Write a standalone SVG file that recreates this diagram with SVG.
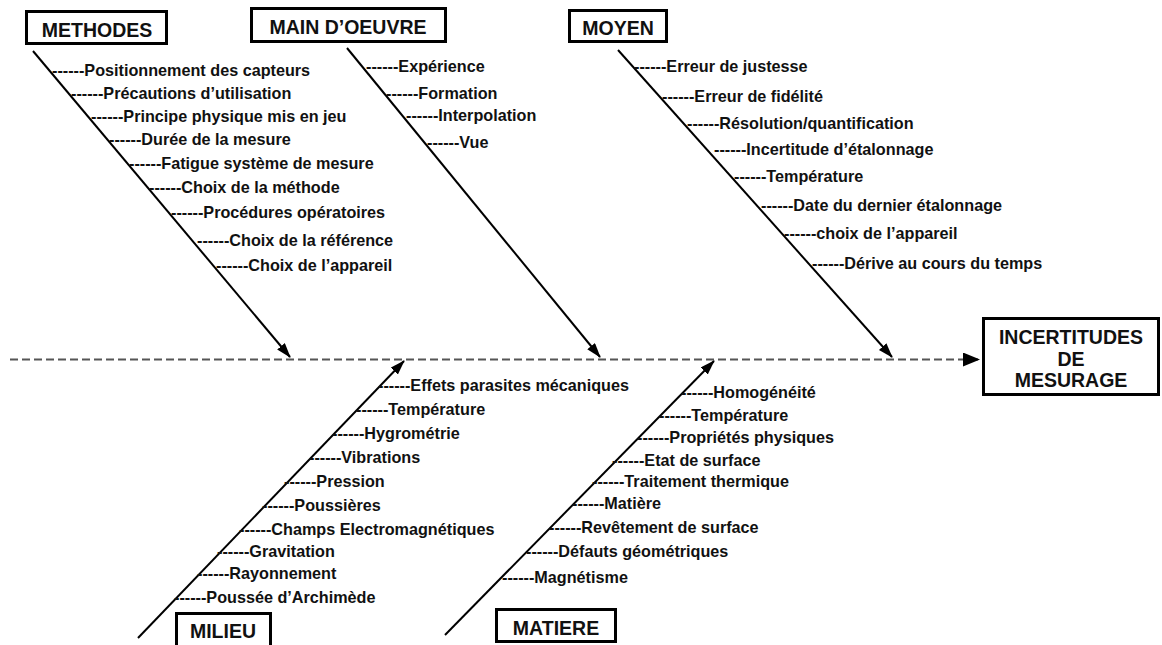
<svg xmlns="http://www.w3.org/2000/svg" width="1162" height="645" viewBox="0 0 1162 645">
  <style>
    .box { fill: #fff; stroke: #000; stroke-width: 3; }
    .title { font-family: "Liberation Sans", Arial, sans-serif; font-weight: bold; font-size: 19.5px; fill: #111; text-anchor: middle; }
    .cause { font-family: "Liberation Sans", Arial, sans-serif; font-weight: bold; font-size: 16.2px; fill: #111; }
    .bone { stroke: #000; stroke-width: 2; fill: none; }
    .spine { stroke: #555; stroke-width: 2.2; stroke-dasharray: 8 4; fill: none; }
  </style>
  <defs>
    <marker id="ah" markerWidth="16" markerHeight="12" refX="14" refY="5" orient="auto" markerUnits="userSpaceOnUse">
      <path d="M0,0 L15,5 L0,10 z" fill="#000"/>
    </marker>
    <marker id="ahMain" markerWidth="18" markerHeight="16" refX="16" refY="7" orient="auto" markerUnits="userSpaceOnUse">
      <path d="M0,0 L17,7 L0,14 z" fill="#000"/>
    </marker>
  </defs>
  <rect width="1162" height="645" fill="#fff"/>

  <!-- spine and category bones -->
  <g id="connectors">
    <line class="spine" x1="10" y1="359.5" x2="979" y2="359.5" marker-end="url(#ahMain)"/>
    <line class="bone" x1="33" y1="51" x2="290" y2="357" marker-end="url(#ah)"/>
    <line class="bone" x1="347" y1="48" x2="600" y2="357" marker-end="url(#ah)"/>
    <line class="bone" x1="618" y1="50" x2="892" y2="357" marker-end="url(#ah)"/>
    <line class="bone" x1="138" y1="638" x2="404" y2="361" marker-end="url(#ah)"/>
    <line class="bone" x1="445" y1="635" x2="714" y2="361" marker-end="url(#ah)"/>
  </g>

  <g id="methodes">
    <rect class="box" x="26.5" y="11.5" width="140" height="32"/>
    <text class="title" x="97" y="37">METHODES</text>
    <text class="cause" x="52" y="76">------Positionnement des capteurs</text>
    <text class="cause" x="71" y="99">------Précautions d’utilisation</text>
    <text class="cause" x="91" y="122">------Principe physique mis en jeu</text>
    <text class="cause" x="109" y="145">------Durée de la mesure</text>
    <text class="cause" x="129" y="169">------Fatigue système de mesure</text>
    <text class="cause" x="149" y="193">------Choix de la méthode</text>
    <text class="cause" x="171" y="218">------Procédures opératoires</text>
    <text class="cause" x="197" y="246">------Choix de la référence</text>
    <text class="cause" x="216" y="271">------Choix de l’appareil</text>
  </g>

  <g id="main-oeuvre">
    <rect class="box" x="251.5" y="8.5" width="194" height="33"/>
    <text class="title" x="348" y="34">MAIN D’OEUVRE</text>
    <text class="cause" x="366" y="72">------Expérience</text>
    <text class="cause" x="386" y="99">------Formation</text>
    <text class="cause" x="406" y="121">------Interpolation</text>
    <text class="cause" x="427" y="148">------Vue</text>
  </g>

  <g id="moyen">
    <rect class="box" x="569.5" y="10.5" width="97" height="31"/>
    <text class="title" x="618" y="35">MOYEN</text>
    <text class="cause" x="634" y="72">------Erreur de justesse</text>
    <text class="cause" x="662" y="102">------Erreur de fidélité</text>
    <text class="cause" x="687" y="129">------Résolution/quantification</text>
    <text class="cause" x="714" y="155">------Incertitude d’étalonnage</text>
    <text class="cause" x="734" y="182">------Température</text>
    <text class="cause" x="761" y="211">------Date du dernier étalonnage</text>
    <text class="cause" x="784" y="239">------choix de l’appareil</text>
    <text class="cause" x="812" y="269">------Dérive au cours du temps</text>
  </g>

  <g id="milieu">
    <rect class="box" x="176.5" y="613.5" width="94" height="45"/>
    <text class="title" x="223" y="638">MILIEU</text>
    <text class="cause" x="378" y="391">------Effets parasites mécaniques</text>
    <text class="cause" x="356" y="415">------Température</text>
    <text class="cause" x="332" y="439">------Hygrométrie</text>
    <text class="cause" x="309" y="463">------Vibrations</text>
    <text class="cause" x="284" y="487">------Pression</text>
    <text class="cause" x="262" y="511">------Poussières</text>
    <text class="cause" x="239" y="535">------Champs Electromagnétiques</text>
    <text class="cause" x="217" y="557">------Gravitation</text>
    <text class="cause" x="197" y="579">------Rayonnement</text>
    <text class="cause" x="174" y="603">------Poussée d’Archimède</text>
  </g>

  <g id="matiere">
    <rect class="box" x="496.5" y="609.5" width="119" height="32"/>
    <text class="title" x="556" y="635">MATIERE</text>
    <text class="cause" x="681" y="398">------Homogénéité</text>
    <text class="cause" x="659" y="421">------Température</text>
    <text class="cause" x="637" y="443">------Propriétés physiques</text>
    <text class="cause" x="612" y="466">------Etat de surface</text>
    <text class="cause" x="592" y="487">------Traitement thermique</text>
    <text class="cause" x="572" y="509">------Matière</text>
    <text class="cause" x="549" y="533">------Revêtement de surface</text>
    <text class="cause" x="526" y="557">------Défauts géométriques</text>
    <text class="cause" x="502" y="583">------Magnétisme</text>
  </g>

  <g id="effet">
    <rect class="box" x="983.5" y="318.5" width="175" height="76"/>
    <text class="title" x="1071" y="344">INCERTITUDES</text>
    <text class="title" x="1071" y="365.5">DE</text>
    <text class="title" x="1071" y="387">MESURAGE</text>
  </g>
</svg>
